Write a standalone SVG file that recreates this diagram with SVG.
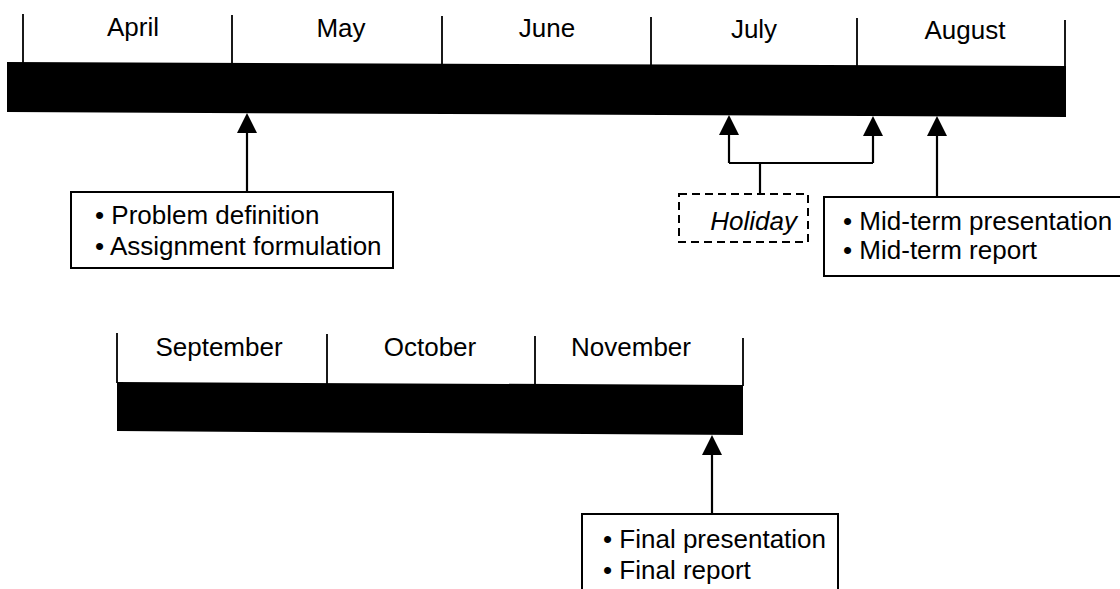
<svg xmlns="http://www.w3.org/2000/svg" width="1120" height="589" viewBox="0 0 1120 589">
  <defs>
    <style>
      .lbl { font-family: "Liberation Sans", Arial, sans-serif; font-size: 26px; fill: #000; }
      .month { text-anchor: middle; }
      .bar { fill: #000; }
      .tick { stroke: #000; stroke-width: 1.8; fill: none; }
      .box { fill: #fff; stroke: #000; stroke-width: 2; }
      .dash { fill: #fff; stroke: #000; stroke-width: 2; stroke-dasharray: 8 5; }
      .conn { stroke: #000; stroke-width: 2.2; fill: none; }
    </style>
    <!-- solid triangle; its base sits on the line end and it points along the line -->
    <marker id="head" viewBox="0 0 20 20" refX="0" refY="10" markerWidth="20" markerHeight="20" markerUnits="userSpaceOnUse" orient="auto">
      <path d="M0,0 L20,10 L0,20 Z" fill="#000"/>
    </marker>
  </defs>

  <!-- upper timeline: April to August -->
  <g id="timeline-top">
    <line class="tick" x1="23" y1="14" x2="23" y2="63"/>
    <line class="tick" x1="232" y1="15" x2="232" y2="63"/>
    <line class="tick" x1="442" y1="16" x2="442" y2="64"/>
    <line class="tick" x1="651" y1="17" x2="651" y2="65"/>
    <line class="tick" x1="857" y1="18" x2="857" y2="66"/>
    <line class="tick" x1="1065" y1="20" x2="1065" y2="67"/>
    <polygon class="bar" points="7,62 1066,66 1066,117 7,112"/>
    <text class="lbl month" x="133" y="36">April</text>
    <text class="lbl month" x="341" y="37">May</text>
    <text class="lbl month" x="547" y="37">June</text>
    <text class="lbl month" x="754" y="38">July</text>
    <text class="lbl month" x="965" y="39">August</text>
  </g>

  <!-- lower timeline: September to November -->
  <g id="timeline-bottom">
    <line class="tick" x1="117" y1="333" x2="117" y2="383"/>
    <line class="tick" x1="327" y1="334" x2="327" y2="384"/>
    <line class="tick" x1="535" y1="336" x2="535" y2="385"/>
    <line class="tick" x1="743" y1="338" x2="743" y2="386"/>
    <polygon class="bar" points="117,382 743,385 743,435 117,431"/>
    <text class="lbl month" x="219" y="356">September</text>
    <text class="lbl month" x="430" y="356">October</text>
    <text class="lbl month" x="631" y="356">November</text>
  </g>

  <!-- connectors -->
  <g id="connectors">
    <path class="conn" d="M247,192 V133" marker-end="url(#head)"/>
    <path class="conn" d="M760,194 V163"/>
    <path class="conn" d="M729,163 H873"/>
    <path class="conn" d="M729,163 V135" marker-end="url(#head)"/>
    <path class="conn" d="M873,163 V136" marker-end="url(#head)"/>
    <path class="conn" d="M937,197 V136" marker-end="url(#head)"/>
    <path class="conn" d="M712,514 V455" marker-end="url(#head)"/>
  </g>

  <g id="node-problem">
    <rect class="box" x="71" y="192" width="322" height="76"/>
    <text class="lbl" x="95" y="224">• Problem definition</text>
    <text class="lbl" x="95" y="255">• Assignment formulation</text>
  </g>

  <g id="node-holiday">
    <rect class="dash" x="679" y="194" width="129" height="48"/>
    <text class="lbl" x="797" y="230" text-anchor="end" font-style="italic">Holiday</text>
  </g>

  <g id="node-midterm">
    <rect class="box" x="824" y="197" width="310" height="79"/>
    <text class="lbl" x="843" y="230">• Mid-term presentation</text>
    <text class="lbl" x="843" y="259">• Mid-term report</text>
  </g>

  <g id="node-final">
    <rect class="box" x="582" y="514" width="256" height="90"/>
    <text class="lbl" x="603" y="548">• Final presentation</text>
    <text class="lbl" x="603" y="579">• Final report</text>
  </g>
</svg>
